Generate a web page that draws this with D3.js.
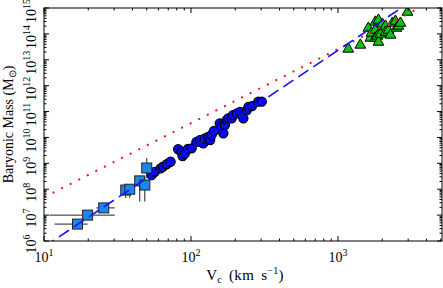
<!DOCTYPE html>
<html>
<head>
<meta charset="utf-8">
<script src="https://cdn.jsdelivr.net/npm/d3@7"></script>
<style>
body { margin: 0; background: #fff; }
text { font-family: "Liberation Serif", "Times New Roman", serif; }
</style>
</head>
<body>
<svg id="chart" width="443" height="288"></svg>
<script>
// dwarf galaxies (squares)
var sqV   = [16.9, 19.8, 25.5, 36.0, 38.3, 44.8, 48.5, 50.0];
var sqM   = [4.5e6, 1.0e7, 1.9e7, 9.3e7, 1.0e8, 2.1e8, 1.45e8, 6.6e8];
var sqVlo = [11.8, 10.9, 22.7, 34.5, 36.5, 43.0, 46.5, 48.0];
var sqVhi = [19.8, 30.3, 30.3, 37.5, 40.0, 46.5, 50.5, 52.0];
var sqMlo = [4.5e6, 0.8e7, 1.9e7, 4.6e7, 4.6e7, 3.3e7, 3.3e7, 2.7e8];
var sqMhi = [4.5e6, 1.25e7, 1.9e7, 1.45e8, 1.45e8, 2.96e8, 2.96e8, 1.6e9];

// spiral galaxies (circles)
var cV = [53.9, 56.7, 62.1, 64.6, 68.5, 72.6, 81.8, 86.3, 87.7, 90.8, 95.3, 101, 109, 115, 121, 124, 131, 135,
          138, 143, 157, 162, 166, 170, 175, 179, 189, 193, 205, 216, 227, 240, 246, 260, 287, 303];
var cM = [3.5e8, 4.7e8, 6.4e8, 7.4e8, 9.4e8, 1.15e9, 3.5e9, 2.8e9, 1.9e9, 2.4e9, 3.6e9, 3.8e9, 6.8e9, 7.9e9, 5.9e9,
          9.2e9, 1.06e10, 7.9e9, 1.24e10, 1.77e10, 3.5e10, 2.6e10, 1.44e10, 3.0e10, 4.7e10, 5.5e10, 5.5e10, 7.3e10,
          8.5e10, 9.8e10, 5.5e10, 1.14e11, 1.5e11, 1.63e11, 2.4e11, 2.4e11];
var cVerr = [4, 4, 5, 5, 5, 6, 6, 7, 7, 7, 8, 8, 9, 9, 10, 10, 10, 11, 11, 11, 12, 13, 13, 14, 14, 14, 15, 15,
             16, 17, 18, 19, 19, 20, 22, 24];

// clusters (triangles)
var tV = [1175, 1419, 1610, 1660, 1687, 1795, 1795, 1795, 1854, 1884, 1884, 1945, 2005, 2102, 2102, 2203,
          2275, 2345, 2460, 2500, 2578, 2661, 2971];
var tM = [2.6e13, 3.7e13, 1.67e14, 6.9e13, 1.07e14, 2.86e14, 1.4e14, 6.9e13, 8.2e13, 3.4e14, 4.8e13, 9.8e13,
          2.39e14, 2.0e14, 1.17e14, 1.4e14, 9.0e13, 2.6e14, 3.1e14, 1.67e14, 2.0e14, 2.6e14, 6.9e14];

// model lines (end points)
var blueLineV = [10, 5000];
var blueLineM = [5.9e5, 1.05e16];
var redLineV  = [10, 5000];
var redLineM  = [4.9e7, 2.6e15];

var svg = d3.select('#chart');
var margin = {top: 8, left: 44, bottom: 47, right: 1};
var width = 443, height = 288;
var w = width - margin.left - margin.right;
var h = height - margin.top - margin.bottom;

var x = d3.scaleLog().domain([10, 5100]).range([0, w]);
var y = d3.scaleLog().domain([1e6, 1e15]).range([h, 0]);

svg.append('defs').append('clipPath').attr('id', 'clip')
    .append('rect').attr('width', w).attr('height', h);

var g = svg.append('g').attr('transform', 'translate(' + [margin.left, margin.top] + ')');
var plot = g.append('g').attr('clip-path', 'url(#clip)');

function isMajor(v) {
    var l = Math.log10(v);
    return Math.abs(l - Math.round(l)) < 1e-6;
}

// circles: error bars then markers
var cIdx = d3.range(cV.length);
plot.selectAll('.cerr').data(cIdx).enter().append('line')
    .attr('x1', function(i) { return x(cV[i] - cVerr[i]); })
    .attr('x2', function(i) { return x(cV[i] + cVerr[i]); })
    .attr('y1', function(i) { return y(cM[i]); })
    .attr('y2', function(i) { return y(cM[i]); })
    .attr('stroke', '#555').attr('stroke-width', 1.4);
plot.selectAll('.circ').data(cIdx).enter().append('circle')
    .attr('cx', function(i) { return x(cV[i]); })
    .attr('cy', function(i) { return y(cM[i]); })
    .attr('r', 4.6)
    .attr('fill', '#0808ee').attr('stroke', '#000').attr('stroke-width', 1.1);

// squares
var sIdx = d3.range(sqV.length);
plot.selectAll('.sxerr').data(sIdx).enter().append('line')
    .attr('x1', function(i) { return x(sqVlo[i]); })
    .attr('x2', function(i) { return x(sqVhi[i]); })
    .attr('y1', function(i) { return y(sqM[i]); })
    .attr('y2', function(i) { return y(sqM[i]); })
    .attr('stroke', '#222').attr('stroke-width', 1);
plot.selectAll('.syerr').data(sIdx).enter().append('line')
    .attr('x1', function(i) { return x(sqV[i]); })
    .attr('x2', function(i) { return x(sqV[i]); })
    .attr('y1', function(i) { return y(sqMlo[i]); })
    .attr('y2', function(i) { return y(sqMhi[i]); })
    .attr('stroke', '#222').attr('stroke-width', 1);
plot.selectAll('.sq').data(sIdx).enter().append('rect')
    .attr('x', function(i) { return x(sqV[i]) - 5; })
    .attr('y', function(i) { return y(sqM[i]) - 5; })
    .attr('width', 10).attr('height', 10)
    .attr('fill', '#1a86f0').attr('stroke', '#222').attr('stroke-width', 1);

// triangles
var tri = d3.symbol().type(d3.symbolTriangle).size(50);
plot.selectAll('.tri').data(d3.range(tV.length)).enter().append('path')
    .attr('d', tri)
    .attr('transform', function(i) { return 'translate(' + [x(tV[i]), y(tM[i])] + ')'; })
    .attr('fill', '#0cc40c').attr('stroke', '#000').attr('stroke-width', 1);

// model lines
var line = d3.line().x(function(d) { return x(d[0]); }).y(function(d) { return y(d[1]); });
plot.append('path')
    .attr('d', line(d3.zip(redLineV, redLineM)))
    .attr('fill', 'none').attr('stroke', '#ff1010').attr('stroke-width', 2)
    .attr('stroke-dasharray', '2,7.6');
plot.append('path')
    .attr('d', line(d3.zip(blueLineV, blueLineM)))
    .attr('fill', 'none').attr('stroke', '#1010ff').attr('stroke-width', 1.6)
    .attr('stroke-dasharray', '12,6');

// frame
g.append('rect').attr('width', w).attr('height', h)
    .attr('fill', 'none').attr('stroke', '#000').attr('stroke-width', 1);

// ticks (inward, all four sides)
x.ticks().forEach(function(v) {
    var len = isMajor(v) ? 5 : 2.5;
    g.append('line').attr('x1', x(v)).attr('x2', x(v)).attr('y1', h).attr('y2', h - len).attr('stroke', '#000');
    g.append('line').attr('x1', x(v)).attr('x2', x(v)).attr('y1', 0).attr('y2', len).attr('stroke', '#000');
});
y.ticks().forEach(function(v) {
    var len = isMajor(v) ? 5 : 2.5;
    g.append('line').attr('y1', y(v)).attr('y2', y(v)).attr('x1', 0).attr('x2', len).attr('stroke', '#000');
    g.append('line').attr('y1', y(v)).attr('y2', y(v)).attr('x1', w).attr('x2', w - len).attr('stroke', '#000');
});

// tick labels
x.ticks().filter(isMajor).forEach(function(v) {
    var t = g.append('text').attr('x', x(v)).attr('y', h + 21)
        .attr('text-anchor', 'middle').attr('font-size', 14);
    t.append('tspan').text('10');
    t.append('tspan').attr('dy', -6).attr('font-size', 10).text(Math.round(Math.log10(v)));
});
y.ticks().filter(isMajor).forEach(function(v) {
    var t = g.append('text')
        .attr('transform', 'translate(' + [-8, y(v) + 3] + ') rotate(-90)')
        .attr('text-anchor', 'middle').attr('font-size', 14);
    t.append('tspan').text('10');
    t.append('tspan').attr('dy', -6).attr('font-size', 10).text(Math.round(Math.log10(v)));
});

// axis titles
var xt = svg.append('text')
    .attr('x', margin.left + w / 2 + 2).attr('y', height - 8)
    .attr('text-anchor', 'middle').attr('font-size', 15)
    .attr('word-spacing', 3).attr('letter-spacing', 0.3);
xt.append('tspan').text('V');
xt.append('tspan').attr('dy', 3).attr('font-size', 10).text('c');
xt.append('tspan').attr('dy', -3).text(' (km s');
xt.append('tspan').attr('dy', -6).attr('font-size', 10).text('\u22121');
xt.append('tspan').attr('dy', 6).text(')');

var yt = svg.append('text')
    .attr('transform', 'translate(' + [13, margin.top + h / 2] + ') rotate(-90)')
    .attr('text-anchor', 'middle').attr('font-size', 14);
yt.append('tspan').text('Baryonic Mass (M');
yt.append('tspan').attr('dy', 3).attr('font-size', 10).text('\u2299');
yt.append('tspan').attr('dy', -3).text(')');
</script>
</body>
</html>
